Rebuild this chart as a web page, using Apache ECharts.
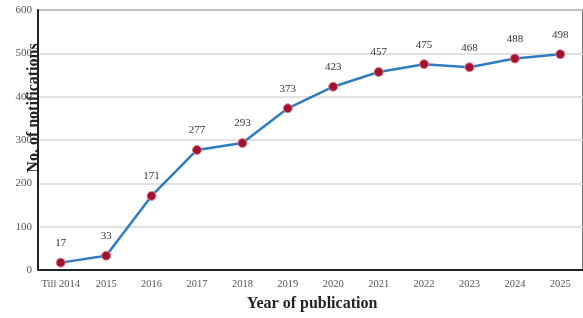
<!DOCTYPE html>
<html>
<head>
<meta charset="utf-8">
<script src="https://cdn.jsdelivr.net/npm/echarts@6/dist/echarts.min.js"></script>
<style>
html,body{margin:0;padding:0;background:#fff;}
#main{width:583px;height:318px;}
</style>
</head>
<body>
<div id="main"></div>
<script>
var years = ['Till 2014', '2015', '2016', '2017', '2018', '2019', '2020', '2021', '2022', '2023', '2024', '2025'];
var notifications = [17, 33, 171, 277, 293, 373, 423, 457, 475, 468, 488, 498];
var serif = '"Liberation Serif", "DejaVu Serif", serif';

var chart = echarts.init(document.getElementById('main'));
chart.setOption({
    animation: false,
    grid: {
        left: 38,
        right: -3,
        top: 10,
        bottom: 48,
        show: true,
        borderColor: '#444',
        borderWidth: 1.5
    },
    xAxis: {
        type: 'category',
        data: years,
        boundaryGap: true,
        axisLine: {lineStyle: {color: '#222', width: 2}},
        axisTick: {show: false},
        axisLabel: {interval: 0, fontFamily: serif, fontSize: 10.5, color: '#555', margin: 9}
    },
    yAxis: {
        type: 'value',
        min: 0,
        max: 600,
        interval: 100,
        axisLine: {show: true, lineStyle: {color: '#222', width: 2}},
        axisTick: {show: false},
        splitLine: {lineStyle: {color: '#d9d9d9', width: 1.5}},
        axisLabel: {fontFamily: serif, fontSize: 11, color: '#555', margin: 6}
    },
    graphic: [
        {
            type: 'text',
            x: 34,
            y: 108,
            rotation: Math.PI / 2,
            style: {
                text: 'No. of notifications',
                font: 'bold 16px ' + serif,
                fill: '#222',
                textAlign: 'center',
                textVerticalAlign: 'middle'
            }
        },
        {
            type: 'text',
            x: 312,
            y: 304,
            style: {
                text: 'Year of publication',
                font: 'bold 16px ' + serif,
                fill: '#222',
                textAlign: 'center',
                textVerticalAlign: 'middle'
            }
        }
    ],
    series: [{
        type: 'line',
        data: notifications,
        symbol: 'circle',
        symbolSize: 9,
        lineStyle: {color: '#2f7cc0', width: 2.5},
        itemStyle: {color: '#a3122e', borderColor: '#d98a9a', borderWidth: 1},
        label: {
            show: true,
            position: 'top',
            distance: 9,
            fontFamily: serif,
            fontSize: 11,
            color: '#333'
        }
    }]
});
</script>
</body>
</html>
